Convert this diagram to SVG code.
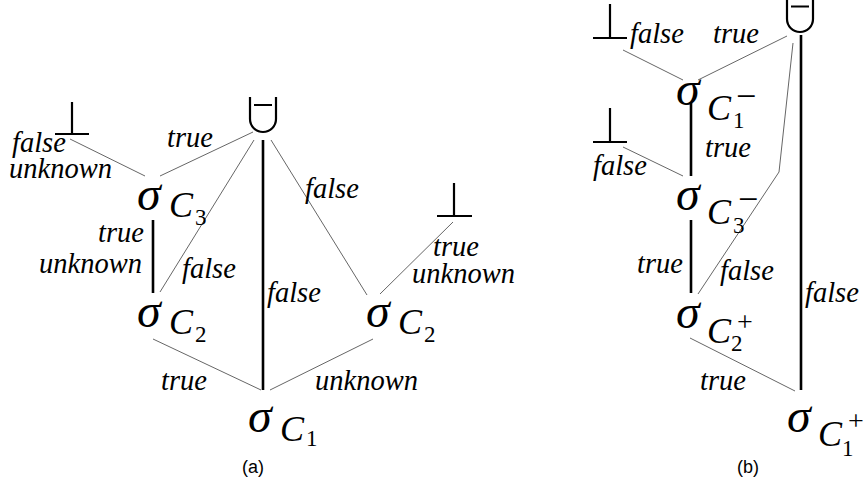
<svg xmlns="http://www.w3.org/2000/svg" width="863" height="481" viewBox="0 0 863 481">
<style>
.lbl{font-family:'Liberation Serif',serif;font-style:italic;font-size:28.5px;fill:#000}
.nd{font-family:'Liberation Serif',serif;fill:#000}
.sig{font-style:italic;font-size:48px}
.cc{font-style:italic;font-size:36px}
.sub{font-style:normal;font-size:23px}
.mn{font-style:normal;font-size:36px}
.pl{font-style:normal;font-size:28px}
.cap{font-family:'Liberation Sans',Arial,sans-serif;font-size:18px;fill:#000}
.thin{stroke:#666;stroke-width:1;fill:none}
.thick{stroke:#000;stroke-width:2.6;fill:none}
.sym{stroke:#000;stroke-width:2.2;fill:none}
</style>
<rect width="863" height="481" fill="#fff"/>
<g id="connectors">
  <line class="thin" x1="70" y1="139" x2="145" y2="176"/>
  <line class="thin" x1="253" y1="132" x2="160" y2="176"/>
  <line class="thin" x1="254" y1="140" x2="160" y2="292"/>
  <line class="thick" x1="263" y1="140" x2="263" y2="390"/>
  <line class="thin" x1="271" y1="140" x2="367" y2="295"/>
  <line class="thin" x1="453" y1="222" x2="380" y2="294"/>
  <line class="thick" x1="153" y1="220" x2="153" y2="293"/>
  <line class="thin" x1="153" y1="339" x2="261" y2="390"/>
  <line class="thin" x1="373" y1="339" x2="270" y2="390"/>
  <line class="thin" x1="623" y1="50" x2="683" y2="80"/>
  <line class="thin" x1="787" y1="36" x2="698" y2="80"/>
  <line class="thick" x1="691" y1="103" x2="691" y2="176"/>
  <line class="thin" x1="623" y1="147" x2="683" y2="176"/>
  <polyline class="thin" points="793,43 779,172 698,294"/>
  <line class="thick" x1="801" y1="35" x2="801" y2="390"/>
  <line class="thick" x1="691" y1="220" x2="691" y2="293"/>
  <line class="thin" x1="690" y1="338" x2="795" y2="391"/>
</g>
<g id="labels">
  <text class="lbl" x="12" y="152">false</text>
  <text class="lbl" x="9" y="178">unknown</text>
  <text class="lbl" x="167" y="147">true</text>
  <text class="lbl" x="98" y="242">true</text>
  <text class="lbl" x="39" y="273">unknown</text>
  <text class="lbl" x="182" y="278">false</text>
  <text class="lbl" x="267" y="302">false</text>
  <text class="lbl" x="305" y="198">false</text>
  <text class="lbl" x="433" y="256">true</text>
  <text class="lbl" x="412" y="283">unknown</text>
  <text class="lbl" x="161" y="390">true</text>
  <text class="lbl" x="315" y="390">unknown</text>
  <text class="lbl" x="630" y="43">false</text>
  <text class="lbl" x="713" y="43">true</text>
  <text class="lbl" x="705" y="157">true</text>
  <text class="lbl" x="593" y="175">false</text>
  <text class="lbl" x="637" y="273">true</text>
  <text class="lbl" x="720" y="280">false</text>
  <text class="lbl" x="805" y="302">false</text>
  <text class="lbl" x="700" y="390">true</text>
  <text class="cap" x="242" y="473">(a)</text>
  <text class="cap" x="737" y="473">(b)</text>
</g>
<g id="bot1"><path class="sym" d="M72,102 V134 M55,134 H89"/></g>
<g id="union1"><path class="sym" d="M250,97 V119 A13,13 0 0 0 276,119 V97 M254,105 H272"/></g>
<g id="sigmaC3"><text class="nd"><tspan class="sig" x="137" y="210">σ</tspan><tspan class="cc" x="169" y="217">C</tspan><tspan class="sub" x="195" y="225">3</tspan></text></g>
<g id="sigmaC2a"><text class="nd"><tspan class="sig" x="137" y="327">σ</tspan><tspan class="cc" x="169" y="334">C</tspan><tspan class="sub" x="195" y="342">2</tspan></text></g>
<g id="bot2"><path class="sym" d="M454,183 V216 M437,216 H472"/></g>
<g id="sigmaC2b"><text class="nd"><tspan class="sig" x="366" y="327">σ</tspan><tspan class="cc" x="398" y="334">C</tspan><tspan class="sub" x="424" y="342">2</tspan></text></g>
<g id="sigmaC1"><text class="nd"><tspan class="sig" x="248" y="432">σ</tspan><tspan class="cc" x="280" y="441">C</tspan><tspan class="sub" x="306" y="446">1</tspan></text></g>
<g id="bot3"><path class="sym" d="M610,4 V38 M593,38 H627"/></g>
<g id="union2"><path class="sym" d="M787,-2 V19 A13,13 0 0 0 813,19 V-2 M791,6.5 H809"/></g>
<g id="sigmaC1m"><text class="nd"><tspan class="sig" x="676" y="105">σ</tspan><tspan class="cc" x="707" y="120">C</tspan><tspan class="mn" x="736" y="108">−</tspan><tspan class="sub" x="733" y="128">1</tspan></text></g>
<g id="bot4"><path class="sym" d="M610,108 V142 M593,142 H627"/></g>
<g id="sigmaC3m"><text class="nd"><tspan class="sig" x="676" y="210">σ</tspan><tspan class="cc" x="707" y="224">C</tspan><tspan class="mn" x="738" y="211">−</tspan><tspan class="sub" x="733" y="233">3</tspan></text></g>
<g id="sigmaC2p"><text class="nd"><tspan class="sig" x="676" y="328">σ</tspan><tspan class="cc" x="707" y="343">C</tspan><tspan class="pl" x="737" y="331">+</tspan><tspan class="sub" x="731" y="351">2</tspan></text></g>
<g id="sigmaC1p"><text class="nd"><tspan class="sig" x="787" y="432">σ</tspan><tspan class="cc" x="818" y="446">C</tspan><tspan class="pl" x="848" y="430">+</tspan><tspan class="sub" x="842" y="456">1</tspan></text></g>
</svg>
